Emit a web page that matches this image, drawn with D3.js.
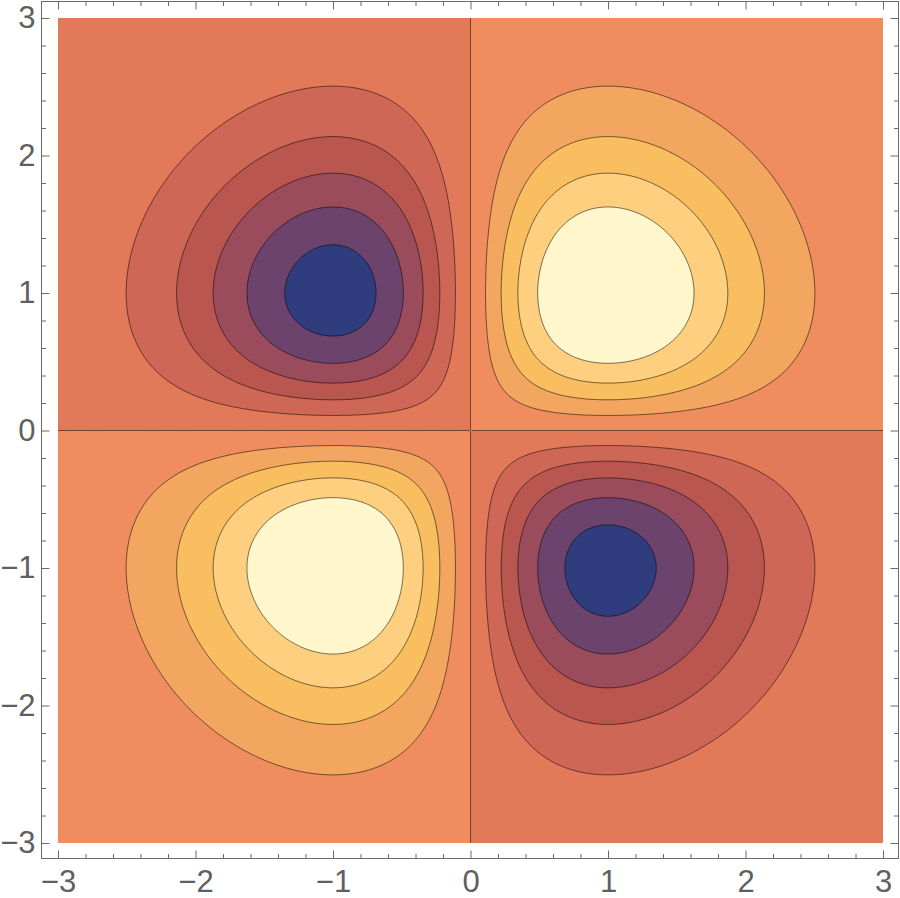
<!DOCTYPE html>
<html>
<head>
<meta charset="utf-8">
<script src="https://cdn.jsdelivr.net/npm/d3@7"></script>
<style>
  body { margin: 0; background: #fff; }
  .axis text { font-family: "Liberation Sans", Arial, sans-serif; font-size: 31px; fill: #5f5f5f; }
  .axis line { stroke: #6b6b6b; }
</style>
</head>
<body>
<svg id="chart" width="900" height="898"></svg>
<script>
// tick positions on both axes
var xTicks = [-3, -2, -1, 0, 1, 2, 3];
var yTicks = [-3, -2, -1, 0, 1, 2, 3];
var xMinor = [-2.8, -2.6, -2.4, -2.2, -1.8, -1.6, -1.4, -1.2, -0.8, -0.6, -0.4, -0.2,
              0.2, 0.4, 0.6, 0.8, 1.2, 1.4, 1.6, 1.8, 2.2, 2.4, 2.6, 2.8];
var yMinor = xMinor.slice();

var levels = [-0.329, -0.263, -0.197, -0.132, -0.066, 0, 0.066, 0.132, 0.197, 0.263];
var bandColors = ["#2f3d7f", "#6b436d", "#9a4c5c", "#b9564f", "#ce6756", "#e27a5a",
                  "#ef8d5e", "#f3a660", "#f8be60", "#fdcf7e", "#fff6cb"];

var xRange = [-3, 3];
var yRange = [-3, 3];

// the plotted surface
function surface(x, y) {
  return x * y * Math.exp(-(x * x + y * y) / 2);
}

var svg = d3.select("#chart");

var plotLeft = 58, plotRight = 883, plotTop = 18, plotBottom = 843;
var frame = { left: 41.5, right: 898.5, top: 1.5, bottom: 858.5 };

var x = d3.scaleLinear().domain(xRange).range([plotLeft, plotRight]);
var y = d3.scaleLinear().domain(yRange).range([plotBottom, plotTop]);

// sample grid a little past the plot range, then clip, so no edge strokes show
var gridStep = 0.02;
var pad = 5;
var nx = Math.round((xRange[1] - xRange[0]) / gridStep) + 2 * pad;
var ny = Math.round((yRange[1] - yRange[0]) / gridStep) + 2 * pad;
var gx = d3.scaleLinear().domain([0, nx]).range([xRange[0] - pad * gridStep, xRange[1] + pad * gridStep]);
var gy = d3.scaleLinear().domain([0, ny]).range([yRange[0] - pad * gridStep, yRange[1] + pad * gridStep]);

var values = new Array(nx * ny);
for (var j = 0; j < ny; j++) {
  for (var i = 0; i < nx; i++) {
    values[j * nx + i] = surface(gx(i + 0.5), gy(j + 0.5));
  }
}

var contours = d3.contours().size([nx, ny]).thresholds(levels)(values);

var path = d3.geoPath(d3.geoTransform({
  point: function(px, py) {
    this.stream.point(x(gx(px)), y(gy(py)));
  }
}));

svg.append("clipPath")
  .attr("id", "plotClip")
  .append("rect")
  .attr("x", plotLeft)
  .attr("y", plotTop)
  .attr("width", plotRight - plotLeft)
  .attr("height", plotBottom - plotTop);

var plot = svg.append("g").attr("clip-path", "url(#plotClip)");

plot.append("rect")
  .attr("x", plotLeft)
  .attr("y", plotTop)
  .attr("width", plotRight - plotLeft)
  .attr("height", plotBottom - plotTop)
  .attr("fill", bandColors[0]);

plot.selectAll("path.band")
  .data(contours)
  .enter()
  .append("path")
  .attr("class", "band")
  .attr("d", path)
  .attr("fill", function(d, k) { return bandColors[k + 1]; })
  .attr("stroke", "none");

plot.selectAll("path.line")
  .data(contours)
  .enter()
  .append("path")
  .attr("class", "line")
  .attr("d", path)
  .attr("fill", "none")
  .attr("stroke", "#000")
  .attr("stroke-opacity", 0.52)
  .attr("stroke-width", 1);

// frame with inward ticks
var fmt = d3.format("d");

svg.append("g").attr("class", "axis")
  .attr("transform", "translate(0," + frame.bottom + ")")
  .call(d3.axisBottom(x).tickValues(xTicks).tickSize(-8).tickPadding(11.5).tickFormat(fmt));
svg.append("g").attr("class", "axis")
  .attr("transform", "translate(0," + frame.bottom + ")")
  .call(d3.axisBottom(x).tickValues(xMinor).tickSize(-4.5).tickFormat(""));

svg.append("g").attr("class", "axis")
  .attr("transform", "translate(" + frame.left + ",0)")
  .call(d3.axisLeft(y).tickValues(yTicks).tickSize(-8).tickPadding(6).tickFormat(fmt));
svg.append("g").attr("class", "axis")
  .attr("transform", "translate(" + frame.left + ",0)")
  .call(d3.axisLeft(y).tickValues(yMinor).tickSize(-4.5).tickFormat(""));

svg.append("g").attr("class", "axis")
  .attr("transform", "translate(0," + frame.top + ")")
  .call(d3.axisTop(x).tickValues(xTicks).tickSize(-8).tickFormat(""));
svg.append("g").attr("class", "axis")
  .attr("transform", "translate(0," + frame.top + ")")
  .call(d3.axisTop(x).tickValues(xMinor).tickSize(-4.5).tickFormat(""));

svg.append("g").attr("class", "axis")
  .attr("transform", "translate(" + frame.right + ",0)")
  .call(d3.axisRight(y).tickValues(yTicks).tickSize(-8).tickFormat(""));
svg.append("g").attr("class", "axis")
  .attr("transform", "translate(" + frame.right + ",0)")
  .call(d3.axisRight(y).tickValues(yMinor).tickSize(-4.5).tickFormat(""));

svg.selectAll(".axis .domain").remove();

svg.append("rect")
  .attr("x", frame.left)
  .attr("y", frame.top)
  .attr("width", frame.right - frame.left)
  .attr("height", frame.bottom - frame.top)
  .attr("fill", "none")
  .attr("stroke", "#6b6b6b")
  .attr("stroke-width", 1);
</script>
</body>
</html>
